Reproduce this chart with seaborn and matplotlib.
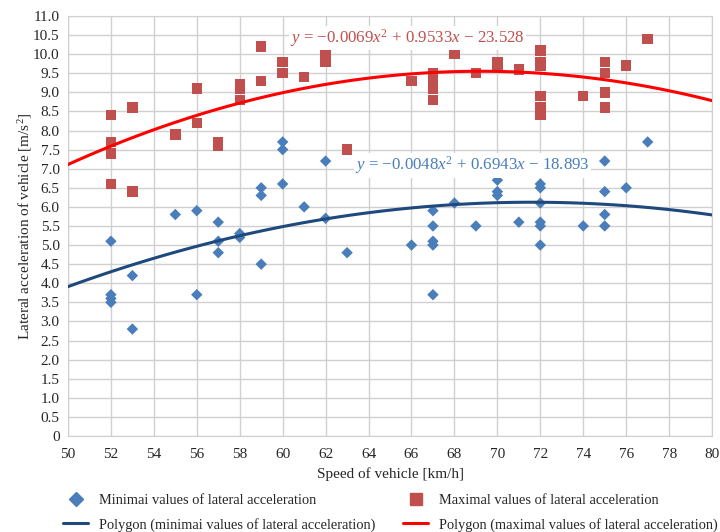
import numpy as np
import pandas as pd
import seaborn as sns
import matplotlib.pyplot as plt
from matplotlib.lines import Line2D
from matplotlib.ticker import FuncFormatter, MultipleLocator

# Data
min_speed = [52, 52, 52, 52, 53, 53, 55, 56, 56, 57, 57, 57, 58, 58, 59, 59, 59,
             60, 60, 60, 61, 62, 62, 63, 66, 67, 67, 67, 67, 67, 68, 69, 70, 70, 70,
             71, 72, 72, 72, 72, 72, 72, 74, 75, 75, 75, 75, 76, 77]
min_acc = [5.1, 3.7, 3.6, 3.5, 4.2, 2.8, 5.8, 5.9, 3.7, 5.6, 5.1, 4.8, 5.3, 5.2, 6.5, 6.3, 4.5,
           7.7, 7.5, 6.6, 6.0, 7.2, 5.7, 4.8, 5.0, 5.9, 5.5, 5.1, 5.0, 3.7, 6.1, 5.5, 6.7, 6.4, 6.3,
           5.6, 6.6, 6.5, 6.1, 5.6, 5.5, 5.0, 5.5, 7.2, 6.4, 5.8, 5.5, 6.5, 7.7]

max_speed = [52, 52, 52, 52, 53, 53, 55, 56, 56, 57, 57, 58, 58, 58, 59, 59, 60, 60, 61,
             62, 62, 63, 66, 67, 67, 67, 67, 68, 69, 70, 70, 71, 72, 72, 72, 72, 72, 72,
             74, 75, 75, 75, 75, 76, 77]
max_acc = [8.4, 7.7, 7.4, 6.6, 8.6, 6.4, 7.9, 9.1, 8.2, 7.7, 7.6, 9.2, 9.1, 8.8, 10.2, 9.3, 9.8, 9.5, 9.4,
           10.0, 9.8, 7.5, 9.3, 9.5, 9.3, 9.1, 8.8, 10.0, 9.5, 9.8, 9.7, 9.6, 10.1, 9.8, 9.7, 8.9, 8.6, 8.4,
           8.9, 9.8, 9.5, 9.0, 8.6, 9.7, 10.4]

eq_min = "$y$ = \u22120.0048$x^2$ + 0.6943$x$ \u2212 18.893"
eq_max = "$y$ = \u22120.0069$x^2$ + 0.9533$x$ \u2212 23.528"

label_min = "Minimai values of lateral acceleration"
label_max = "Maximal values of lateral acceleration"
label_min_poly = "Polygon (minimai values of lateral acceleration)"
label_max_poly = "Polygon (maximal values of lateral acceleration)"

min_df = pd.DataFrame({"speed": min_speed, "acc": min_acc})
max_df = pd.DataFrame({"speed": max_speed, "acc": max_acc})

sns.set_style("white")
plt.rcParams['font.family'] = ['Liberation Serif', 'DejaVu Serif']
plt.rcParams['mathtext.fontset'] = 'custom'
plt.rcParams['mathtext.rm'] = 'Liberation Serif'
plt.rcParams['mathtext.it'] = 'Liberation Serif:italic'

blue_pt = "#4A7EBB"
red_pt = "#C0504D"
blue_line = "#1F497D"
red_line = "#FF0000"
grid_col = "#D0D0D0"

fig = plt.figure(figsize=(7.2, 5.32), dpi=100)
ax = fig.add_axes([0.0944, 0.1805, 0.8946, 0.7895])

# points
sns.scatterplot(data=min_df, x="speed", y="acc", marker="D", s=34, color=blue_pt,
                edgecolor="none", ax=ax, zorder=3)
sns.scatterplot(data=max_df, x="speed", y="acc", marker="s", s=56, color=red_pt,
                edgecolor="none", ax=ax, zorder=3)

# 2nd order trendlines (fitted over the full x range)
ax.set_xlim(50, 80)
sns.regplot(data=min_df, x="speed", y="acc", order=2, ci=None, truncate=False,
            scatter=False, line_kws=dict(color=blue_line, lw=2.2, zorder=4), ax=ax)
sns.regplot(data=max_df, x="speed", y="acc", order=2, ci=None, truncate=False,
            scatter=False, line_kws=dict(color=red_line, lw=2.2, zorder=4), ax=ax)

ax.set_xlim(50, 80)
ax.set_ylim(0, 11)
ax.xaxis.set_major_locator(MultipleLocator(2))
ax.yaxis.set_major_locator(MultipleLocator(0.5))
ax.yaxis.set_major_formatter(FuncFormatter(lambda v, p: "0" if v == 0 else f"{v:.1f}"))
ax.grid(True, color=grid_col, lw=1)
ax.set_axisbelow(True)
for s in ax.spines.values():
    s.set_color(grid_col)
ax.tick_params(axis="both", length=4, color=grid_col, labelsize=11)
ax.tick_params(axis="x", pad=5)
ax.tick_params(axis="y", pad=2)

ax.set_xlabel("Speed of vehicle [km/h]", fontsize=11, labelpad=4)
ax.set_ylabel("Lateral acceleration of vehicle [m/s$^2$]", fontsize=11, labelpad=-0.5)

# trendline equations
ax.text(60.34, 10.42, eq_max, color="#C0504D", fontsize=12.2, va="center", ha="left",
        bbox=dict(facecolor="white", edgecolor="none", pad=1), zorder=5)
ax.text(63.37, 7.09, eq_min, color="#4A7EBB", fontsize=12.2, va="center", ha="left",
        bbox=dict(facecolor="white", edgecolor="none", pad=1), zorder=5)

handles = [
    Line2D([], [], marker="D", ls="none", color=blue_pt, markersize=7),
    Line2D([], [], color=blue_line, lw=2.2),
    Line2D([], [], marker="s", ls="none", color=red_pt, markersize=9),
    Line2D([], [], color=red_line, lw=2.2),
]
labels = [label_min, label_min_poly, label_max, label_max_poly]
fig.legend(handles, labels, loc="upper left", bbox_to_anchor=(0.0875, 0.071), ncol=2,
           frameon=False, fontsize=10.4, handlelength=1.75, handletextpad=0.75,
           columnspacing=1.9, labelspacing=0.72, borderaxespad=0, borderpad=0)

fig.savefig("out.png", dpi=100)
